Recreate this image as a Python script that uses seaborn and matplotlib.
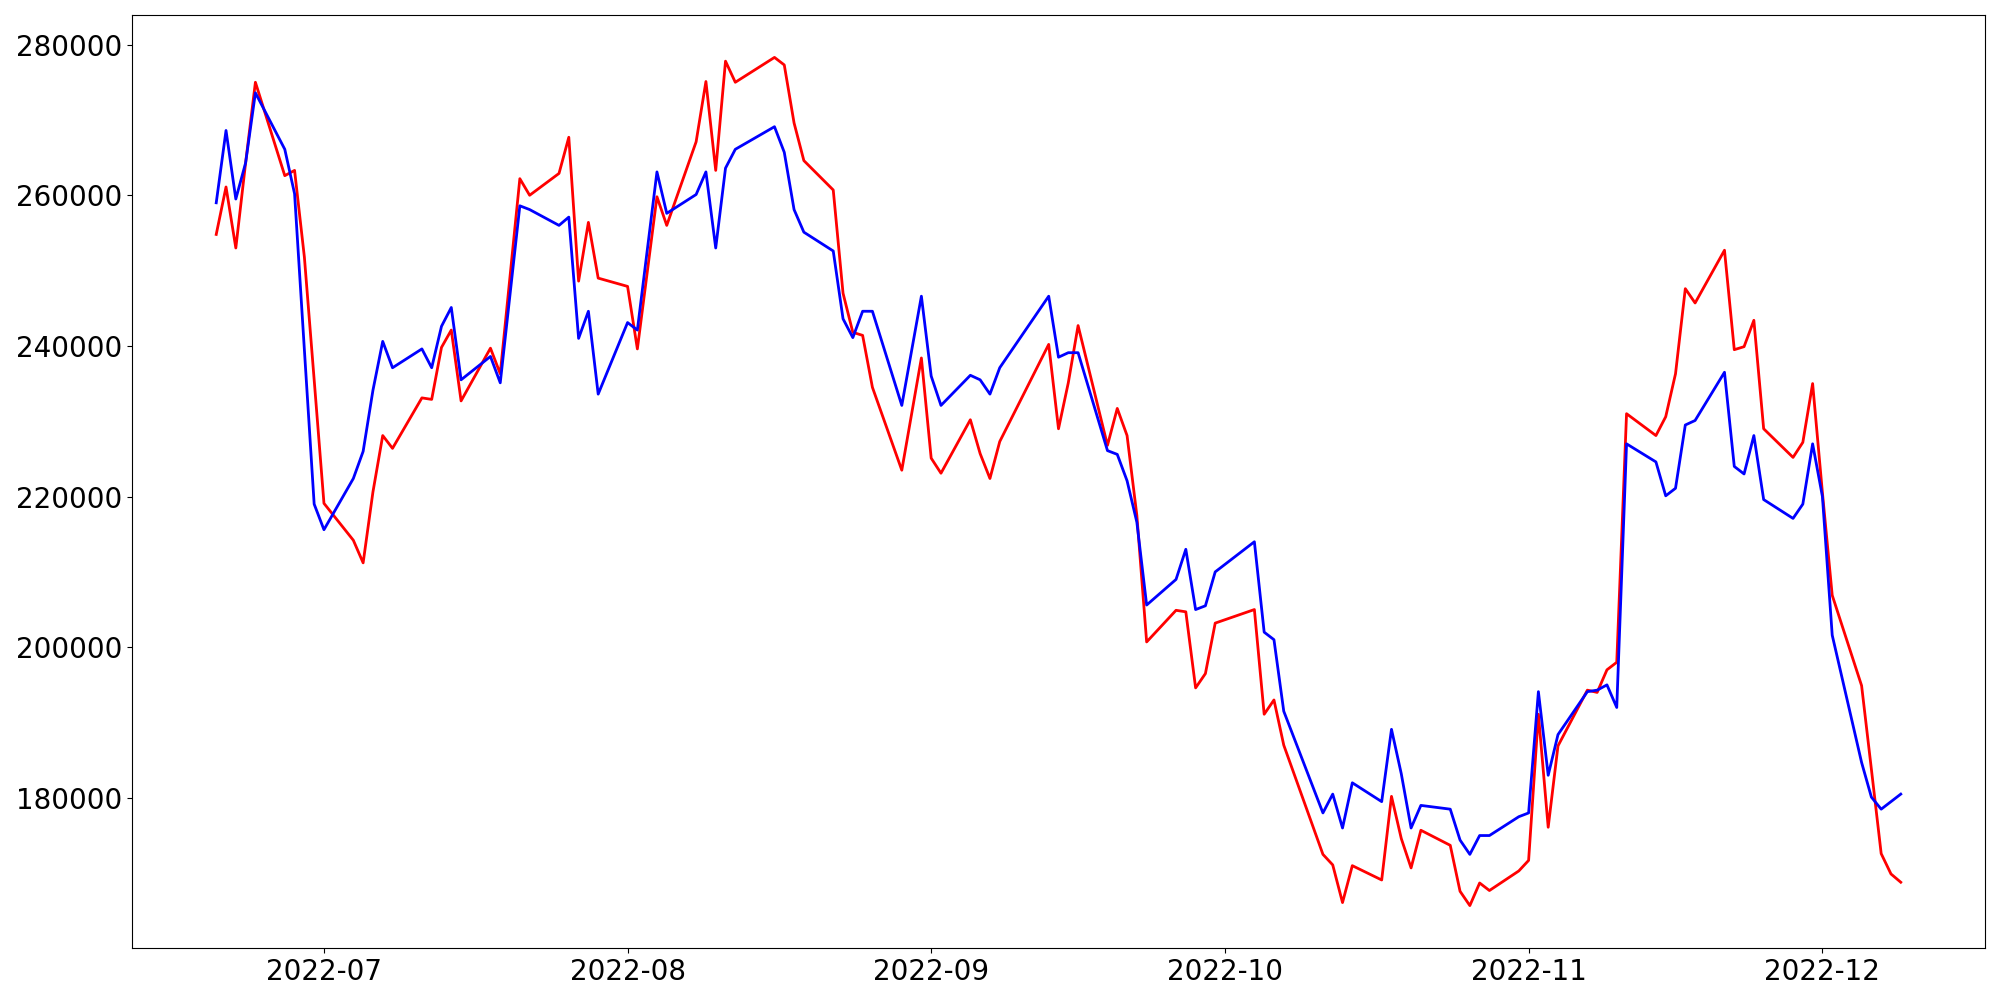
import pandas as pd
import matplotlib
matplotlib.use('Agg')
import matplotlib.pyplot as plt
import matplotlib.dates as mdates
import seaborn as sns

dates = [
    '2022-06-20', '2022-06-21', '2022-06-22', '2022-06-23', '2022-06-24',
    '2022-06-27', '2022-06-28', '2022-06-29', '2022-06-30', '2022-07-01',
    '2022-07-04', '2022-07-05', '2022-07-06', '2022-07-07', '2022-07-08',
    '2022-07-11', '2022-07-12', '2022-07-13', '2022-07-14', '2022-07-15',
    '2022-07-18', '2022-07-19', '2022-07-21', '2022-07-22',
    '2022-07-25', '2022-07-26', '2022-07-27', '2022-07-28', '2022-07-29',
    '2022-08-01', '2022-08-02', '2022-08-04', '2022-08-05',
    '2022-08-08', '2022-08-09', '2022-08-10', '2022-08-11', '2022-08-12',
    '2022-08-16', '2022-08-17', '2022-08-18', '2022-08-19',
    '2022-08-22', '2022-08-23', '2022-08-24', '2022-08-25', '2022-08-26',
    '2022-08-29', '2022-08-31', '2022-09-01', '2022-09-02',
    '2022-09-05', '2022-09-06', '2022-09-07', '2022-09-08',
    '2022-09-13', '2022-09-14', '2022-09-15', '2022-09-16',
    '2022-09-19', '2022-09-20', '2022-09-21', '2022-09-22', '2022-09-23',
    '2022-09-26', '2022-09-27', '2022-09-28', '2022-09-29', '2022-09-30',
    '2022-10-04', '2022-10-05', '2022-10-06', '2022-10-07',
    '2022-10-11', '2022-10-12', '2022-10-13', '2022-10-14',
    '2022-10-17', '2022-10-18', '2022-10-19', '2022-10-20', '2022-10-21',
    '2022-10-24', '2022-10-25', '2022-10-26', '2022-10-27', '2022-10-28',
    '2022-10-31', '2022-11-01', '2022-11-02', '2022-11-03', '2022-11-04',
    '2022-11-07', '2022-11-08', '2022-11-09', '2022-11-10', '2022-11-11',
    '2022-11-14', '2022-11-15', '2022-11-16', '2022-11-17', '2022-11-18',
    '2022-11-21', '2022-11-22', '2022-11-23', '2022-11-24', '2022-11-25',
    '2022-11-28', '2022-11-29', '2022-11-30', '2022-12-01', '2022-12-02',
    '2022-12-05', '2022-12-06', '2022-12-07', '2022-12-08', '2022-12-09',
]

red_vals = [
    254800, 261100, 253000, 264300, 275000,
    262600, 263300, 251800, 235500, 219100,
    214200, 211200, 220600, 228100, 226400,
    233100, 232900, 239800, 242100, 232700,
    239700, 236300, 262200, 260000,
    262900, 267700, 248600, 256400, 249000,
    247900, 239600, 259800, 256000,
    267100, 275100, 263300, 277800, 275000,
    278300, 277300, 269600, 264600,
    260700, 247000, 241800, 241400, 234500,
    223500, 238400, 225100, 223100,
    230200, 225700, 222400, 227300,
    240200, 229000, 235100, 242700,
    226800, 231700, 228100, 217500, 200700,
    204900, 204700, 194600, 196500, 203200,
    205000, 191100, 193000, 187000,
    172500, 171100, 166100, 171000,
    169100, 180200, 174600, 170700, 175700,
    173700, 167600, 165700, 168700, 167700,
    170300, 171700, 191100, 176100, 186900,
    194300, 194000, 197000, 198000, 231000,
    228100, 230600, 236300, 247600, 245700,
    252700, 239500, 239900, 243400, 229000,
    225200, 227200, 235000, 220500, 206900,
    194900, 183800, 172600, 169900, 168800,
]

blue_vals = [
    259000, 268600, 259500, 264300, 273600,
    266100, 260200, 239500, 219000, 215600,
    222400, 226000, 234100, 240600, 237100,
    239600, 237100, 242600, 245100, 235500,
    238600, 235100, 258600, 258100,
    256000, 257100, 241000, 244600, 233600,
    243100, 242100, 263100, 257600,
    260100, 263100, 253000, 263600, 266100,
    269100, 265700, 258100, 255100,
    252600, 243600, 241100, 244600, 244600,
    232100, 246600, 236000, 232100,
    236100, 235500, 233600, 237100,
    246600, 238500, 239100, 239100,
    226100, 225600, 222100, 216600, 205600,
    209000, 213000, 205000, 205500, 210000,
    214000, 202000, 201000, 191500,
    178000, 180500, 176000, 182000,
    179500, 189100, 183200, 176000, 179000,
    178500, 174400, 172500, 175000, 175000,
    177500, 178000, 194100, 183000, 188400,
    194100, 194300, 195000, 192000, 227000,
    224600, 220100, 221100, 229500, 230100,
    236500, 224000, 223000, 228100, 219600,
    217100, 219000, 227000, 220000, 201600,
    184700, 180100, 178500, 179500, 180500,
]

df = pd.DataFrame({'date': pd.to_datetime(dates), 'red': red_vals, 'blue': blue_vals})

fig, ax = plt.subplots(figsize=(20, 10), dpi=100)
sns.lineplot(data=df, x='date', y='red', color='red', linewidth=2, ax=ax)
sns.lineplot(data=df, x='date', y='blue', color='blue', linewidth=2, ax=ax)

ax.xaxis.set_major_locator(mdates.MonthLocator())
ax.xaxis.set_major_formatter(mdates.DateFormatter('%Y-%m'))
ax.set_xlabel('')
ax.set_ylabel('')
ax.tick_params(labelsize=20)

plt.subplots_adjust(left=0.066, right=0.9925, top=0.985, bottom=0.052)
plt.savefig('out.png')
